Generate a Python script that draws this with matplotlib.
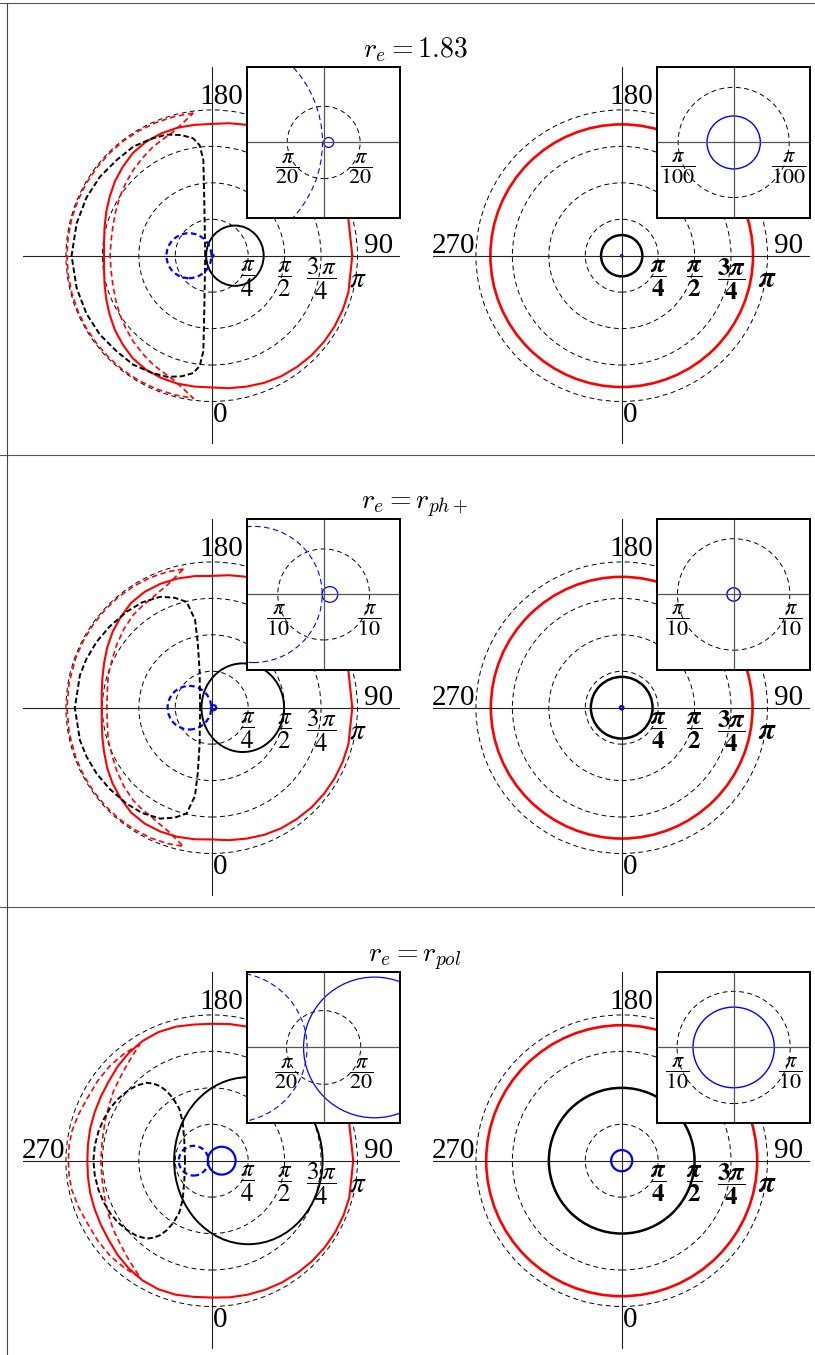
import numpy as np
import matplotlib
matplotlib.use("Agg")
import matplotlib.pyplot as plt
from matplotlib.patches import Circle, Ellipse
from matplotlib.lines import Line2D

plt.rcParams['lines.scale_dashes'] = False

W, H, DPI = 815, 1355, 100
PX = 46.4            # pixels per radian in the main panels
HALF = 188.5         # half size of a main panel, pixels
LIM = HALF / PX

# ---- data -------------------------------------------------------------
grid_r = [np.pi / 4, np.pi / 2, 3 * np.pi / 4, np.pi]
tick_thin = [r'$\dfrac{\pi}{4}$', r'$\dfrac{\pi}{2}$', r'$\dfrac{3\,\pi}{4}$', r'$\pi$']
tick_bold = [r'$\dfrac{\boldsymbol{\pi}}{\mathbf{4}}$', r'$\dfrac{\boldsymbol{\pi}}{\mathbf{2}}$',
             r'$\dfrac{\mathbf{3}\boldsymbol{\pi}}{\mathbf{4}}$', r'$\boldsymbol{\pi}$']
titles = [r'$r_e = 1.83$', r'$r_e = r_{ph+}$', r'$r_e = r_{pol}$']
row_cy = [255.7, 707.7, 1160.7]      # panel centres, pixels from top

# red solid curve, upper half (theta in deg, r)
red_th = list(np.arange(0, 181, 7.5))
red_r = [[3.03, 3.014, 3.05, 3.055, 3.055, 3.05, 3.04, 3.02, 3.00, 2.965, 2.92, 2.88, 2.84,
          2.845, 2.855, 2.85, 2.835, 2.79, 2.71, 2.63, 2.54, 2.46, 2.39, 2.34, 2.32],
         [3.03, 3.014, 3.05, 3.055, 3.055, 3.05, 3.04, 3.02, 3.00, 2.965, 2.92, 2.88, 2.84,
          2.86, 2.88, 2.89, 2.885, 2.85, 2.77, 2.69, 2.60, 2.51, 2.44, 2.39, 2.37],
         [3.05, 3.034, 3.07, 3.075, 3.075, 3.07, 3.06, 3.045, 3.03, 3.01, 2.99, 2.97, 2.95,
          2.96, 2.99, 3.00, 2.98, 2.93, 2.87, 2.80, 2.76, 2.73, 2.71, 2.69, 2.68]]

# red dashed crescent: outer edge (polar) and inner edge (x, y), upper half
cres_out_th = [[97.4, 105, 112.5, 120, 127.5, 135, 142.5, 150, 157.5, 165, 172.5, 180],
               [101.5, 108, 115, 122.5, 130, 137.5, 145, 152.5, 160, 170, 180],
               [121.6, 129, 136.7, 145, 153.5, 161, 168.2, 174, 180]]
cres_out_r = [[3.10, 3.105, 3.11, 3.115, 3.12, 3.12, 3.12, 3.12, 3.12, 3.12, 3.12, 3.12],
              [3.05, 3.08, 3.10, 3.11, 3.12, 3.12, 3.12, 3.12, 3.12, 3.12, 3.12],
              [2.95, 2.98, 3.00, 3.00, 3.00, 3.04, 3.08, 3.09, 3.09]]
cres_in_x = [[-0.40, -0.62, -0.83, -1.05, -1.26, -1.48, -1.69, -1.85, -1.98, -2.07, -2.13, -2.17, -2.19],
             [-0.61, -0.78, -0.95, -1.12, -1.29, -1.50, -1.69, -1.89, -2.05, -2.15, -2.23, -2.25, -2.26],
             [-1.545, -1.69, -1.83, -1.98, -2.12, -2.22, -2.30, -2.36, -2.39]]
cres_in_y = [[3.07, 2.86, 2.67, 2.51, 2.35, 2.12, 1.85, 1.57, 1.27, 0.95, 0.63, 0.31, 0.0],
             [2.99, 2.82, 2.65, 2.51, 2.36, 2.19, 2.00, 1.70, 1.35, 1.02, 0.70, 0.35, 0.0],
             [2.51, 2.29, 2.06, 1.78, 1.49, 1.17, 0.84, 0.42, 0.0]]

# black dashed closed curve, upper half (x, y)
bd_x = [[-0.14, -0.15, -0.16, -0.18, -0.26, -0.40, -0.65, -0.97, -1.30, -1.69, -2.05, -2.41, -2.70, -2.91, -3.02],
        [-0.25, -0.26, -0.30, -0.36, -0.54, -0.80, -1.11, -1.50, -1.83, -2.20, -2.48, -2.70, -2.84, -2.95],
        [-0.575, -0.59, -0.625, -0.70, -0.83, -0.96, -1.10, -1.25, -1.40, -1.62, -1.83, -2.02, -2.19,
         -2.33, -2.44, -2.52, -2.55]]
bd_y = [[0.0, 0.6, 1.2, 2.06, 2.38, 2.53, 2.60, 2.61, 2.52, 2.35, 2.06, 1.70, 1.25, 0.70, 0.0],
        [0.0, 0.78, 1.40, 1.90, 2.28, 2.37, 2.39, 2.27, 2.07, 1.75, 1.42, 1.05, 0.70, 0.0],
        [0.0, 0.42, 0.84, 1.12, 1.34, 1.49, 1.60, 1.66, 1.68, 1.62, 1.49, 1.33, 1.13,
         0.89, 0.63, 0.32, 0.0]]

# black solid ellipse (centre x, width, height) in left panels
bs_cx = [0.50, 0.67, 0.79]
bs_w = [1.24, 1.78, 3.20]
bs_h = [1.30, 1.91, 3.60]
# blue dashed circle (centre x, radius) and blue solid circle, left panels
bl_dash_c = [-0.49, -0.48, -0.39]
bl_dash_r = [0.485, 0.47, 0.32]
bl_sol_c = [0.0215, 0.043, 0.215]
bl_sol_r = [0.0215, 0.054, 0.30]

# right panels: concentric red, black and blue circles
right_red = [2.83, 2.82, 2.92]
right_black = [0.445, 0.665, 1.57]
right_blue = [0.0151, 0.0375, 0.228]

# insets: half range, dashed circle radius, its label
ins_half_l = [0.329, 0.523, 0.323]
ins_half_r = [0.0432, 0.427, 0.424]
ins_grid_l = [np.pi / 20, np.pi / 10, np.pi / 20]
ins_grid_r = [np.pi / 100, np.pi / 10, np.pi / 10]
ins_lab_l = [r'$\dfrac{\pi}{20}$', r'$\dfrac{\pi}{10}$', r'$\dfrac{\pi}{20}$']
ins_lab_r = [r'$\dfrac{\pi}{100}$', r'$\dfrac{\pi}{10}$', r'$\dfrac{\pi}{10}$']

# ---- helpers ----------------------------------------------------------
fig = plt.figure(figsize=(W / DPI, H / DPI), dpi=DPI)
SERIF = 'Liberation Serif'
GRID = dict(fill=False, ec='k', lw=0.7, ls=(0, (3.5, 2.5)))


def px_axes(x0, y0, w, h):
    return fig.add_axes([x0 / W, 1 - (y0 + h) / H, w / W, h / H])


def polar(th, r):
    t = np.radians(th)
    return np.asarray(r) * np.cos(t), np.asarray(r) * np.sin(t)


def closed(x, y):
    x = np.asarray(x); y = np.asarray(y)
    return np.concatenate([x, x[::-1]]), np.concatenate([y, -y[::-1]])


def main_panel(cx, cy, bold, show270):
    ax = px_axes(cx - HALF, cy - HALF, 2 * HALF, 2 * HALF)
    ax.set_xlim(-LIM, LIM)
    ax.set_ylim(-LIM, LIM)
    ax.axis('off')
    ax.axhline(0, color='#222', lw=0.8)
    ax.axvline(0, color='#222', lw=0.8)
    for r in grid_r:
        ax.add_patch(Circle((0, 0), r, **GRID))
    labs = tick_bold if bold else tick_thin
    for k, (r, s) in enumerate(zip(grid_r, labs)):
        ax.text(r, -0.5, s, ha='center', va='center', fontsize=21 if k == 3 else 18,
                math_fontfamily='stix')
    kw = dict(fontsize=21, family=SERIF, ha='center', va='center')
    ax.text(0.21, 3.43, '180', **kw)
    ax.text(0.19, -3.43, '0', **kw)
    ax.text(3.59, 0.21, '90', **kw)
    if show270:
        ax.text(-3.62, 0.21, '270', **kw)
    return ax


def inset(x0, y0, half, gr, lab):
    ax = px_axes(x0, y0, 152.7, 151.5)
    ax.set_xlim(-half, half)
    ax.set_ylim(-half, half)
    ax.set_xticks([]); ax.set_yticks([])
    for s in ax.spines.values():
        s.set_linewidth(1.4)
    ax.axhline(0, color='#555', lw=0.9)
    ax.axvline(0, color='#555', lw=0.9)
    ax.add_patch(Circle((0, 0), gr, **GRID))
    for sx in (-1, 1):
        ax.text(sx * gr, 0.5 - 25.7 / 151.5, lab, transform=ax.get_xaxis_transform(),
                ha='center', va='center', fontsize=16, math_fontfamily='stix')
    return ax


# ---- drawing ----------------------------------------------------------
for i, cy in enumerate(row_cy):
    # left panel
    ax = main_panel(211.7, cy, False, i == 2)
    x, y = closed(*polar(red_th, red_r[i]))
    ax.plot(x, y, color='red', lw=1.5)
    ox, oy = polar(cres_out_th[i], cres_out_r[i])
    cx_ = np.concatenate([ox, ox[::-1], cres_in_x[i], cres_in_x[i][::-1]])
    cy_ = np.concatenate([oy, -oy[::-1], -np.asarray(cres_in_y[i]), cres_in_y[i][::-1]])
    ax.plot(cx_, cy_, color='red', lw=1.2, ls=(0, (4, 2.5)))
    x, y = closed(bd_x[i], bd_y[i])
    ax.plot(x, y, color='k', lw=1.4, ls=(0, (4, 2)))
    ax.add_patch(Ellipse((bs_cx[i], 0), bs_w[i], bs_h[i], fill=False, ec='k', lw=1.4))
    ax.add_patch(Circle((bl_dash_c[i], 0), bl_dash_r[i], fill=False, ec='blue', lw=1.6,
                        ls=(0, (4, 2.5))))
    ax.add_patch(Circle((bl_sol_c[i], 0), bl_sol_r[i], fill=False, ec='blue', lw=1.6))

    ia = inset(247.3, cy - 189.0, ins_half_l[i], ins_grid_l[i], ins_lab_l[i])
    ia.add_patch(Circle((bl_dash_c[i], 0), bl_dash_r[i], fill=False, ec='blue', lw=0.8,
                        ls=(0, (4, 2.5))))
    ia.add_patch(Circle((bl_sol_c[i], 0), bl_sol_r[i], fill=False, ec='blue', lw=0.9))

    # right panel
    ax = main_panel(621.7, cy, True, True)
    ax.add_patch(Circle((0, 0), right_red[i], fill=False, ec='red', lw=1.9))
    ax.add_patch(Circle((0, 0), right_black[i], fill=False, ec='k', lw=1.8))
    ax.add_patch(Circle((0, 0), right_blue[i], fill=False, ec='blue', lw=1.6))

    ia = inset(657.3, cy - 189.0, ins_half_r[i], ins_grid_r[i], ins_lab_r[i])
    ia.add_patch(Circle((0, 0), right_blue[i] * (0.99 if i == 2 else 1.0), fill=False,
                        ec='blue', lw=1.0))

    fig.text(415 / W, 1 - (57 + 452.5 * i) / H, titles[i], ha='center', va='baseline',
             fontsize=20, math_fontfamily='cm')

# table rules
for yy in (2.5, 454.5, 906.5):
    fig.add_artist(Line2D([0, 1], [1 - yy / H] * 2, color='#555', lw=0.8))
fig.add_artist(Line2D([6.5 / W] * 2, [0, 1 - 2.5 / H], color='#444', lw=0.8))

fig.savefig('out.png', dpi=DPI)
